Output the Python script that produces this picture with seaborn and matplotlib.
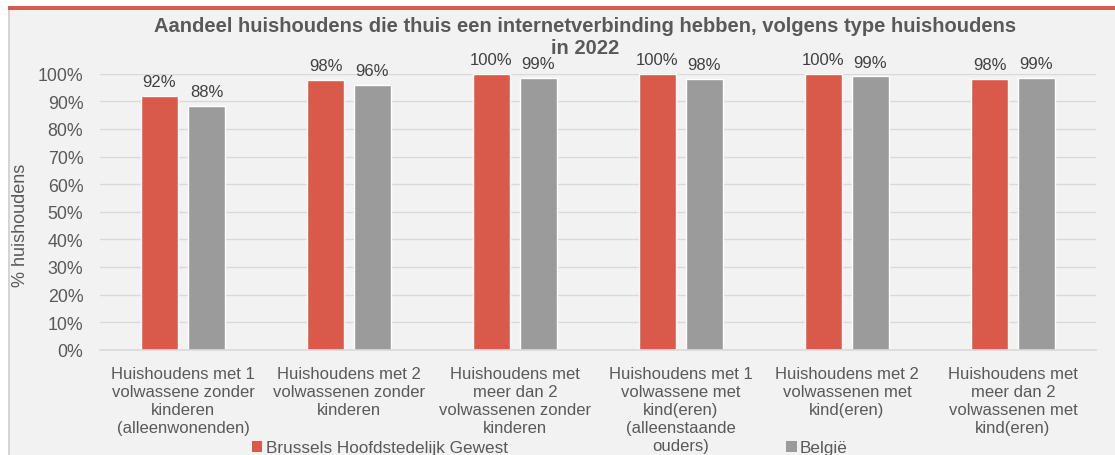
import matplotlib
matplotlib.use("Agg")
import matplotlib.pyplot as plt
from matplotlib.patches import Rectangle
import seaborn as sns
import pandas as pd

# Data
categories = [
    "Huishoudens met 1\nvolwassene zonder\nkinderen\n(alleenwonenden)",
    "Huishoudens met 2\nvolwassenen zonder\nkinderen",
    "Huishoudens met\nmeer dan 2\nvolwassenen zonder\nkinderen",
    "Huishoudens met 1\nvolwassene met\nkind(eren)\n(alleenstaande\nouders)",
    "Huishoudens met 2\nvolwassenen met\nkind(eren)",
    "Huishoudens met\nmeer dan 2\nvolwassenen met\nkind(eren)",
]
series = ["Brussels Hoofdstedelijk Gewest", "België"]
brussel = [91.8, 97.8, 99.9, 99.9, 99.9, 98.1]
belgie = [88.3, 95.8, 98.6, 98.2, 99.0, 98.6]
colors = {"Brussels Hoofdstedelijk Gewest": "#D95A4A", "België": "#9B9B9B"}

df = pd.DataFrame({
    "categorie": categories * 2,
    "reeks": [series[0]] * len(categories) + [series[1]] * len(categories),
    "waarde": brussel + belgie,
})

sns.set_theme(style="whitegrid")
plt.rcParams["font.family"] = ["Liberation Sans", "DejaVu Sans"]

W, H = 1115, 456
fig = plt.figure(figsize=(W / 100, H / 100), dpi=100, facecolor="#F2F2F2")

# white strips and red rule at the top (screenshot frame)
fig.patches.append(Rectangle((0, 1 - 7 / H), 1, 7 / H, transform=fig.transFigure,
                             facecolor="white", edgecolor="none", zorder=0))
fig.patches.append(Rectangle((0, 0), 8 / W, 1, transform=fig.transFigure,
                             facecolor="white", edgecolor="none", zorder=0))
fig.patches.append(Rectangle((8 / W, 0), 1.5 / W, 1 - 10 / H, transform=fig.transFigure,
                             facecolor="#D4D4D4", edgecolor="none", zorder=1))
fig.patches.append(Rectangle((8 / W, 1 - 10.5 / H), 1 - 8 / W, 3.5 / H, transform=fig.transFigure,
                             facecolor="#D95A4A", edgecolor="none", zorder=1))

left, right = 100 / W, 1096 / W
top, bottom = 1 - 74.7 / H, 1 - 350.7 / H
ax = fig.add_axes([left, bottom, right - left, top - bottom])
ax.set_facecolor("#F2F2F2")

sns.barplot(data=df, x="categorie", y="waarde", hue="reeks", palette=colors,
            width=0.566, gap=0.21, ax=ax, legend=False, saturation=1)

for cont in ax.containers:
    ax.bar_label(cont, labels=[f"{v:.0f}%" for v in cont.datavalues], padding=5,
                 fontsize=12, color="#404040", annotation_clip=False)

ax.set_ylim(0, 100)
ax.set_xlim(-0.5, len(categories) - 0.5)
ax.set_yticks(range(0, 101, 10))
ax.set_yticklabels([f"{v}%" for v in range(0, 101, 10)])
ax.tick_params(axis="y", length=0, pad=12, labelsize=12.8, labelcolor="#595959")
ax.tick_params(axis="x", length=0, pad=12, labelsize=12, labelcolor="#595959")
ax.grid(axis="y", color="#D9D9D9", linewidth=1)
ax.grid(axis="x", visible=False)
for s in ["left", "right", "top"]:
    ax.spines[s].set_visible(False)
ax.spines["bottom"].set_color("#D9D9D9")
ax.spines["bottom"].set_linewidth(1.2)
ax.set_xlabel("")
ax.set_ylabel("")
for lab in ax.get_xticklabels():
    lab.set_verticalalignment("top")
    lab.set_multialignment("center")
    lab.set_linespacing(1.25)

fig.text(21 / W, 1 - 225 / H, "% huishoudens", rotation=90, ha="center", va="center",
         fontsize=13, color="#595959")

# title in two lines
title_kw = dict(ha="center", va="center", fontsize=14.5, fontweight="bold", color="#595959")
fig.text(585 / W, 1 - 27 / H,
         "Aandeel huishoudens die thuis een internetverbinding hebben, volgens type huishoudens",
         **title_kw)
fig.text(585 / W, 1 - 49 / H, "in 2022", **title_kw)

handles = [Rectangle((0, 0), 1, 1, facecolor=colors[s], edgecolor="none") for s in series]
fig.legend(handles, series, loc="center", bbox_to_anchor=(550 / W, 1 - 449 / H), ncol=2,
           frameon=False, fontsize=12.3, labelcolor="#595959", handlelength=0.6,
           handleheight=0.6, handletextpad=0.2, columnspacing=16.3, borderpad=0)

fig.savefig("out.png", dpi=100, facecolor=fig.get_facecolor())
